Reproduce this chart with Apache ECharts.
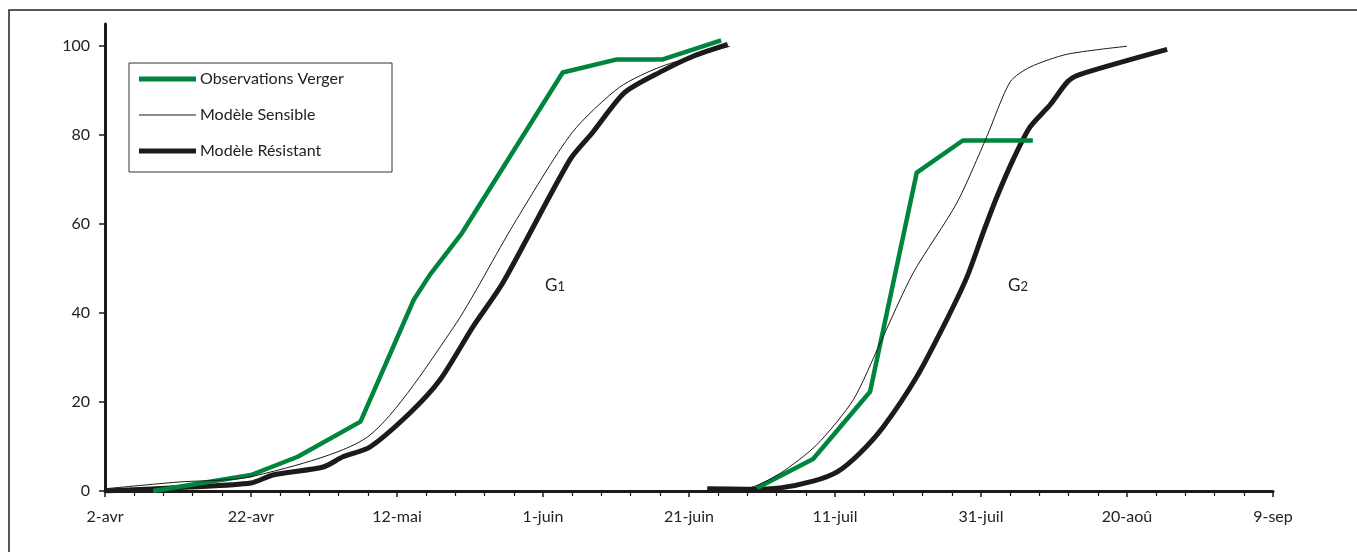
<!DOCTYPE html>
<html>
<head>
<meta charset="utf-8">
<script src="https://cdn.jsdelivr.net/npm/echarts@6/dist/echarts.min.js"></script>
<style>
  html, body { margin: 0; padding: 0; background: #fff; }
  #chart { width: 1357px; height: 552px; }
</style>
</head>
<body>
<div id="chart"></div>
<script>
// axe X : jours depuis le 2 avril
const tickLabels = ['2-avr', '22-avr', '12-mai', '1-juin', '21-juin', '11-juil', '31-juil', '20-aoû', '9-sep']

// Observations Verger
const obsG1Days = [6.6, 20, 26.4, 35, 42.3, 44.5, 48.9, 62.7, 70, 76.3, 84.4]
const obsG1Values = [0, 3.6, 7.7, 15.6, 43, 48.6, 58, 94.1, 97, 97, 101.3]
const obsG2Days = [89.3, 97, 104.8, 111.2, 117.5, 127.1]
const obsG2Values = [0.7, 7.2, 22.3, 71.6, 78.8, 78.8]

// Modèle Sensible
const sensG1Days = [0, 9.9, 20, 36, 47.7, 56, 64, 70.5, 76.3, 85.6]
const sensG1Values = [0.5, 2, 3.2, 12.2, 36.7, 60, 80.6, 90.8, 95.5, 100]
const sensG2Days = [82.5, 88, 92.5, 97.5, 102.5, 106.2, 110.7, 116.7, 120.8, 124, 126.7, 131.8, 140]
const sensG2Values = [0.3, 0.6, 4, 10.4, 20.5, 33.3, 49, 64.8, 79.7, 92, 95.3, 98.2, 100]

// Modèle Résistant
const resG1Days = [0, 11.6, 20, 23, 29.9, 32.6, 36.3, 41.8, 45.9, 50.4, 54.5, 63.7, 66.8, 71.2, 76.3, 80.5, 85.3]
const resG1Values = [0, 0.9, 1.8, 3.6, 5.4, 7.7, 9.9, 17.6, 25, 36.9, 46.8, 74.5, 80.6, 89.6, 94.4, 97.7, 100.4]
const resG2Days = [82.5, 88, 92.5, 97, 100.3, 103.4, 106.6, 111.2, 115.3, 118.1, 120.3, 122.2, 124.4, 126.7, 129.5, 131.9, 133.6, 145.5]
const resG2Values = [0.5, 0.4, 0.7, 2.2, 4.3, 8.5, 14.4, 25.7, 38.5, 48.2, 58.1, 66.2, 74.5, 81.8, 86.9, 92.1, 93.7, 99.3]

const pairs = (xs, ys) => xs.map((x, i) => [x, ys[i]])

const myChart = echarts.init(document.querySelector('#chart'))
const font = 'Lato'
const green = '#00853f'
const dark = '#1c1a1a'

// smooth : léger lissage pour les courbes des modèles
const lineSeries = (name, xs, ys, color, width, smooth) => ({
  name,
  type: 'line',
  data: pairs(xs, ys),
  symbol: 'none',
  smooth,
  lineStyle: { color, width, join: 'round' },
  itemStyle: { color },
  z: width > 2 ? 3 : 4,
  animation: false,
})

const option = {
  backgroundColor: '#fff',
  grid: { left: 105, right: 84, top: 24, bottom: 61 },
  xAxis: {
    type: 'value',
    min: 0,
    max: 160,
    interval: 20,
    splitLine: { show: false },
    axisLine: { lineStyle: { color: dark, width: 3 } },
    axisTick: { show: true, length: 6, lineStyle: { color: dark, width: 1.5 } },
    minorTick: { show: true, splitNumber: 5, length: 5, lineStyle: { color: dark, width: 1.2 } },
    axisLabel: {
      color: '#222',
      fontFamily: font,
      fontSize: 16,
      margin: 18,
      formatter: v => tickLabels[Math.round(v / 20)],
    },
  },
  yAxis: {
    type: 'value',
    min: 0,
    max: 105,
    interval: 20,
    splitLine: { show: false },
    axisLine: { show: true, lineStyle: { color: dark, width: 3 } },
    axisTick: { show: true, length: 6, lineStyle: { color: dark, width: 1.5 } },
    axisLabel: {
      color: '#222',
      fontFamily: font,
      fontSize: 16,
      margin: 15,
      showMaxLabel: false,
      formatter: v => (v % 20 === 0 ? String(v) : ''),
    },
  },
  legend: {
    orient: 'vertical',
    left: 134,
    top: 66,
    itemWidth: 57,
    itemHeight: 14,
    itemGap: 20,
    data: [
      { name: 'Observations Verger', itemStyle: { color: green }, icon: 'path://M0,0 L57,0 L57,5 L0,5 Z' },
      { name: 'Modèle Sensible', itemStyle: { color: dark }, icon: 'path://M0,0 L57,0 L57,1 L0,1 Z' },
      { name: 'Modèle Résistant', itemStyle: { color: dark }, icon: 'path://M0,0 L57,0 L57,5 L0,5 Z' },
    ],
    textStyle: { color: '#222', fontFamily: font, fontSize: 16, padding: [0, 0, 0, -1] },
  },
  graphic: [
    {
      type: 'rect',
      shape: { x: 9, y: 10, width: 1400, height: 600 },
      style: { fill: 'none', stroke: '#222', lineWidth: 1.5 },
      silent: true,
      z: -10,
    },
    {
      type: 'rect',
      shape: { x: 129, y: 63, width: 263, height: 109 },
      style: { fill: 'none', stroke: '#333', lineWidth: 1 },
      silent: true,
    },
    {
      type: 'text',
      left: 545,
      top: 277,
      style: {
        text: '{g|G}{n|1}',
        rich: {
          g: { fontFamily: font, fontSize: 17, fill: '#222' },
          n: { fontFamily: font, fontSize: 13, fill: '#222', padding: [3, 0, 0, 0] },
        },
      },
    },
    {
      type: 'text',
      left: 1008,
      top: 277,
      style: {
        text: '{g|G}{n|2}',
        rich: {
          g: { fontFamily: font, fontSize: 17, fill: '#222' },
          n: { fontFamily: font, fontSize: 13, fill: '#222', padding: [3, 0, 0, 0] },
        },
      },
    },
  ],
  series: [
    lineSeries('Modèle Résistant', resG1Days, resG1Values, dark, 5, 0.25),
    lineSeries('Modèle Résistant', resG2Days, resG2Values, dark, 5, 0.25),
    lineSeries('Observations Verger', obsG1Days, obsG1Values, green, 4.5, false),
    lineSeries('Observations Verger', obsG2Days, obsG2Values, green, 4.5, false),
    lineSeries('Modèle Sensible', sensG1Days, sensG1Values, dark, 1, 0.25),
    lineSeries('Modèle Sensible', sensG2Days, sensG2Values, dark, 1, 0.25),
  ],
  animation: false,
}
myChart.setOption(option)
</script>
</body>
</html>
